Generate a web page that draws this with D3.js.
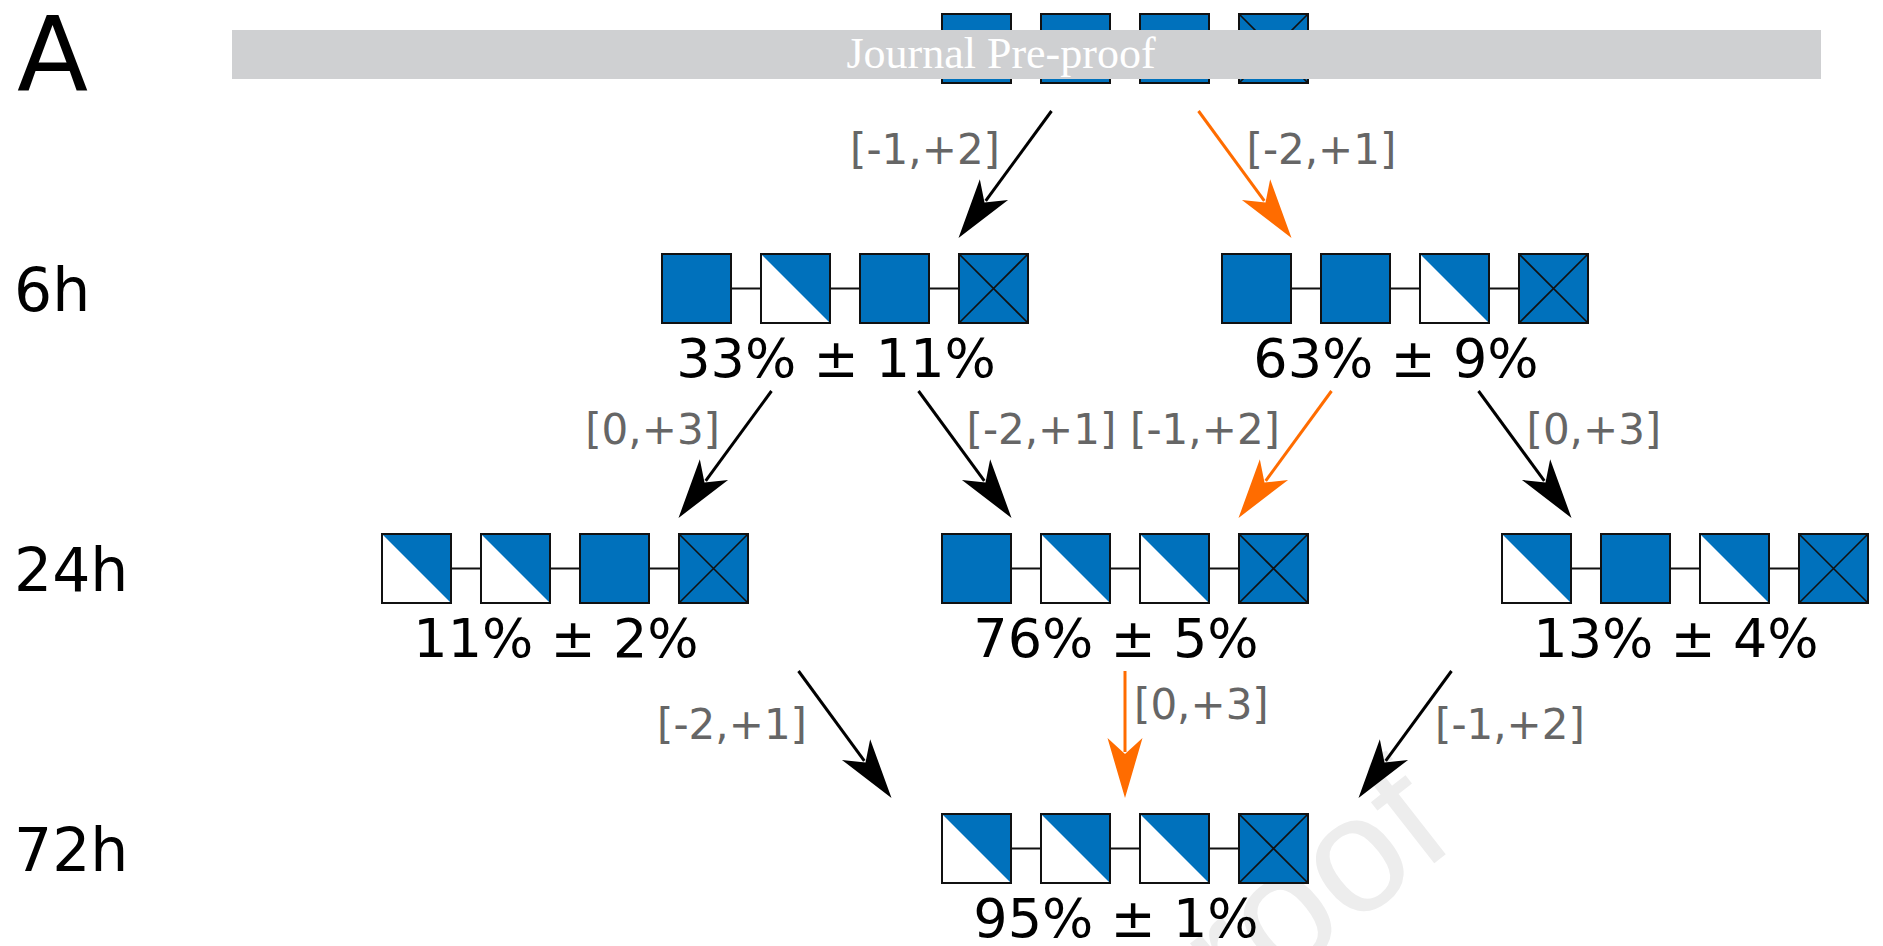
<!DOCTYPE html>
<html>
<head>
<meta charset="utf-8">
<script src="https://cdn.jsdelivr.net/npm/d3@7"></script>
<style>
  html, body { margin: 0; padding: 0; background: #ffffff; }
  svg { display: block; }
</style>
</head>
<body>
<svg id="chart" width="1883" height="946"></svg>
<script>
// ---- data -------------------------------------------------------------
// time points (rows of the lineage tree)
const timepoints = ["0h", "6h", "24h", "72h"];
const rowLabels = ["6h", "24h", "72h"];

// states of the four sites in each node: F = full, H = half, X = crossed
const nodeIds    = ["t0", "a6", "b6", "a24", "b24", "c24", "t72"];
const nodeRows   = ["0h", "6h", "6h", "24h", "24h", "24h", "72h"];
const nodeCols   = [0, -1, 1, -2, 0, 2, 0];
const nodeStates = ["FFFX", "FHFX", "FFHX", "HHFX", "FHHX", "HFHX", "HHHX"];
const nodeMeans  = [null, 33, 63, 11, 76, 13, 95];
const nodeErrors = [null, 11, 9, 2, 5, 4, 1];

// transitions between nodes
const linkSources = ["t0", "t0", "a6", "a6", "b6", "b6", "a24", "b24", "c24"];
const linkTargets = ["a6", "b6", "a24", "b24", "b24", "c24", "t72", "t72", "t72"];
const linkLabels  = ["[-1,+2]", "[-2,+1]", "[0,+3]", "[-2,+1]", "[-1,+2]", "[0,+3]", "[-2,+1]", "[0,+3]", "[-1,+2]"];
const linkOptimal = [false, true, false, false, true, false, false, true, false];

// ---- styling ------------------------------------------------------------
const BLUE = "#0071bc";
const ORANGE = "#ff6c00";
const SANS = "'DejaVu Sans', 'Bitstream Vera Sans', sans-serif";
const SQ = 69;            // square side

const nodes = nodeIds.map((id, i) => ({
  id, row: nodeRows[i], col: nodeCols[i], states: nodeStates[i].split(""),
  mean: nodeMeans[i], err: nodeErrors[i]
}));
const byId = new Map(nodes.map(n => [n.id, n]));
const links = linkSources.map((s, i) => ({
  source: byId.get(s), target: byId.get(linkTargets[i]),
  label: linkLabels[i], optimal: linkOptimal[i]
}));

// ---- scales ---------------------------------------------------------------
const x = d3.scaleLinear().domain([-2, 2]).range([565, 1685]);
const y = d3.scaleOrdinal().domain(timepoints).range([48.5, 288.5, 568.5, 848.5]);
const site = d3.scaleBand().domain([0, 1, 2, 3]).range([-183, 183]).paddingInner(0.303);

const svg = d3.select("#chart");

// faint diagonal watermark behind everything
svg.append("text")
  .attr("transform", "translate(1459,844) rotate(-38)")
  .attr("text-anchor", "end")
  .attr("font-family", "'Liberation Sans', Arial, sans-serif")
  .attr("font-size", 165)
  .attr("fill", "#ededed")
  .text("Journal Pre-proof");

// ---- nodes ----------------------------------------------------------------
const g = svg.append("g");
const node = g.selectAll("g.node").data(nodes).join("g")
  .attr("class", "node")
  .attr("transform", d => `translate(${x(d.col)},${y(d.row)})`);

// connectors between neighbouring sites
node.selectAll("line.link").data([0, 1, 2]).join("line")
  .attr("x1", i => site(i) + SQ).attr("x2", i => site(i + 1))
  .attr("y1", 0).attr("y2", 0)
  .attr("stroke", "#111").attr("stroke-width", 2);

const sq = node.selectAll("g.site").data(d => d.states.map((s, i) => ({ s, i }))).join("g")
  .attr("class", "site")
  .attr("transform", d => `translate(${site(d.i)},${-SQ / 2})`);

sq.append("rect")
  .attr("width", SQ).attr("height", SQ)
  .attr("fill", d => d.s === "H" ? "#ffffff" : BLUE);

sq.filter(d => d.s === "H").append("path")
  .attr("d", `M0,0L${SQ},0L${SQ},${SQ}Z`)
  .attr("fill", BLUE);

sq.filter(d => d.s === "X").append("path")
  .attr("d", `M0,0L${SQ},${SQ}M${SQ},0L0,${SQ}`)
  .attr("stroke", "#111").attr("stroke-width", 1.6).attr("fill", "none");

sq.append("rect")
  .attr("width", SQ).attr("height", SQ)
  .attr("fill", "none").attr("stroke", "#111").attr("stroke-width", 2);

// percentage labels
node.filter(d => d.mean !== null).append("text")
  .attr("x", -9).attr("y", SQ / 2 + 54)
  .attr("text-anchor", "middle")
  .attr("font-family", SANS).attr("font-size", 54).attr("fill", "#000")
  .text(d => `${d.mean}% \u00b1 ${d.err}%`);

// ---- arrows ---------------------------------------------------------------
const ARROW_DX = 46.5, ARROW_DY = 127, GAP = 16;
const HEAD_LEN = 60, HEAD_W = 17.5, NOTCH = 44;

links.forEach(l => {
  const dcol = l.target.col - l.source.col;
  const dir = Math.sign(dcol);
  const tipY = y(l.target.row) - SQ / 2 - GAP;
  const startY = tipY - ARROW_DY;
  const mx = (x(l.source.col) + x(l.target.col)) / 2 - dir * (2 - Math.abs(dcol)) * 20;
  const my = (tipY + startY) / 2;
  const tipX = mx + dir * ARROW_DX, startX = mx - dir * ARROW_DX;
  l.geom = { tipX, tipY, startX, startY, mx, my, dcol, dir };
});

const arrows = svg.append("g").selectAll("g").data(links).join("g");
arrows.each(function (l) {
  const { tipX, tipY, startX, startY } = l.geom;
  const len = Math.hypot(tipX - startX, tipY - startY);
  const ux = (tipX - startX) / len, uy = (tipY - startY) / len;
  const px = -uy, py = ux;
  const col = l.optimal ? ORANGE : "#000";
  const sel = d3.select(this);
  sel.append("line")
    .attr("x1", startX).attr("y1", startY)
    .attr("x2", tipX - ux * (NOTCH + 2)).attr("y2", tipY - uy * (NOTCH + 2))
    .attr("stroke", col).attr("stroke-width", 3);
  const bx = tipX - ux * HEAD_LEN, by = tipY - uy * HEAD_LEN;
  const pts = [
    [tipX, tipY],
    [bx + px * HEAD_W, by + py * HEAD_W],
    [tipX - ux * NOTCH, tipY - uy * NOTCH],
    [bx - px * HEAD_W, by - py * HEAD_W]
  ];
  sel.append("path").attr("d", "M" + pts.join("L") + "Z").attr("fill", col);
});

// transition labels
svg.append("g").selectAll("text").data(links).join("text")
  .attr("font-family", SANS).attr("font-size", 42).attr("fill", "#666666")
  .attr("text-anchor", l => {
    const { dcol, dir } = l.geom;
    if (dcol === 0) return "start";
    if (Math.abs(dcol) === 1) return dir < 0 ? "end" : "start";
    return dir > 0 ? "end" : "start";
  })
  .attr("x", l => {
    const { dcol, dir, mx } = l.geom;
    if (dcol === 0) return mx + 9;
    if (Math.abs(dcol) === 1) return dir < 0 ? mx - 5 : mx + 1.5;
    return dir > 0 ? mx - 38 : mx + 30;
  })
  .attr("y", l => {
    const { dcol, my } = l.geom;
    if (dcol === 0) return my - 16;
    if (Math.abs(dcol) === 1) return my - 11;
    return my + 4;
  })
  .text(l => l.label);

// ---- banner over the top row -----------------------------------------------
svg.append("rect")
  .attr("x", 232).attr("y", 30).attr("width", 1589).attr("height", 49)
  .attr("fill", "#cfd0d2");
svg.append("text")
  .attr("x", 1001).attr("y", 68)
  .attr("text-anchor", "middle")
  .attr("font-family", "'Liberation Serif', 'Times New Roman', serif")
  .attr("font-size", 44).attr("fill", "#ffffff")
  .text("Journal Pre-proof");

// ---- row labels and panel letter ---------------------------------------------
svg.append("g").selectAll("text").data(rowLabels).join("text")
  .attr("x", 14).attr("y", d => y(d) + 22)
  .attr("font-family", SANS).attr("font-size", 60).attr("fill", "#000")
  .text(d => d);

svg.append("text")
  .attr("x", 17).attr("y", 90)
  .attr("font-family", SANS).attr("font-size", 104).attr("fill", "#000")
  .text("A");
</script>
</body>
</html>
